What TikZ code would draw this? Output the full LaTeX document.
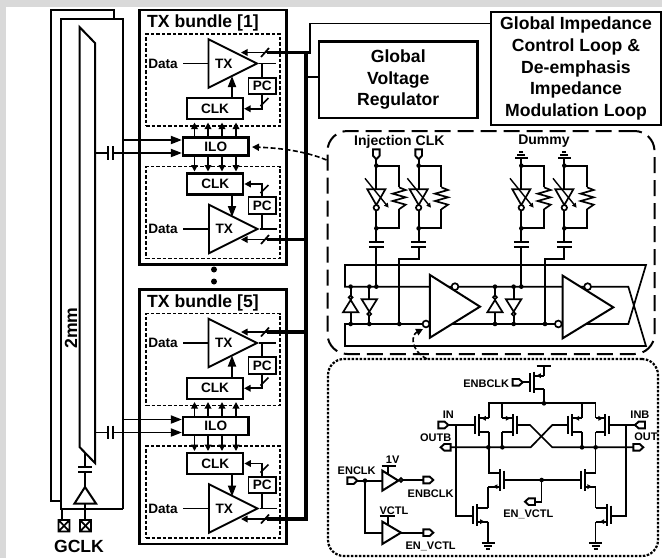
\documentclass[tikz,border=0pt]{standalone}
\usepackage{fontspec}
\setmainfont{Liberation Sans}
\usetikzlibrary{shapes.geometric, arrows.meta}
\definecolor{framegray}{RGB}{217,217,217}
\newcommand{\fntL}{\fontsize{17.6}{21.7}\selectfont\bfseries}
\newcommand{\fntM}{\fontsize{13.6}{16}\selectfont\bfseries}
\newcommand{\fntS}{\fontsize{11}{13}\selectfont\bfseries}
\tikzset{
  wire/.style={line width=1.7pt},
  tinyarw/.style={-{Triangle[length=4.5pt,width=4.5pt]},line width=1.4pt},
  pics/port/.style={code={\draw[line width=1.9pt,fill=white] (-15,-10)--(4,-10)--(15,0)--(4,10)--(-15,10)--cycle;}},
  pics/gnd/.style={code={
    \draw[wire] (-20,0)--(20,0) (-12,10)--(12,10) (-6,19)--(6,19);}},
  pics/pfet/.style={code={
    \draw[line width=2pt] (0,-28)--(0,28) (12,-32)--(12,32);
    \draw[wire] (12,-20)--(#1,-20) (12,20)--(#1,20);
    \draw[tinyarw] (32,-20)--(19,-20);}},
  pics/nfet/.style={code={
    \draw[line width=2pt] (0,-28)--(0,28) (12,-32)--(12,32);
    \draw[wire] (12,-20)--(#1,-20) (12,20)--(#1,20);
    \draw[tinyarw] (20,20)--(34,20);}}
}
\begin{document}
\begin{tikzpicture}[x=1pt,y=-1pt,
  box/.style={draw, line width=2.2pt, inner sep=0pt, align=center},
  bundlebox/.style={draw, line width=2.3pt, minimum width=147, minimum height=254.5},
  dashbox/.style={draw, line width=1.6pt, dash pattern=on 3.5pt off 2pt, minimum width=134, minimum height=92},
  clkbox/.style={box, font=\fntM, minimum width=56, minimum height=21},
  pcbox/.style={box, line width=1.8pt, font=\fntM, minimum width=27.5, minimum height=16.5},
  txtri/.style={isosceles triangle, isosceles triangle stretches, draw, line width=1.9pt, inner sep=0pt,
    minimum width=48.5, minimum height=48.5, anchor=lower side, font=\fntM},
  lab/.style={inner sep=0pt, font=\fntS},
  arw/.style={-{Triangle[length=6.5pt,width=6.5pt]}, line width=1.8pt},
  bigarw/.style={-{Triangle[length=11pt,width=8pt]}, line width=1.8pt},
  bus/.style={line width=3.6pt},
  dasharw/.style={-{Triangle[length=7pt,width=7pt]}, line width=1.6pt, dash pattern=on 5pt off 2.5pt}
]
  \useasboundingbox (0,0) rectangle (662,558);
  \fill[framegray] (0,0) rectangle (662,558);
  \fill[white] (6,7) rectangle (662,558);

  \draw[line width=2pt] (114,18)--(114,10)--(51,10)--(51,500.5)--(61,500.5);
  \draw[line width=2pt] (123,509)--(123,19)--(61,19)--(61,509)--(123,509);
  \draw[line width=2pt] (79.5,27)--(95,43)--(95,463)--(79.5,447)--cycle;
  \draw[wire] (85,453)--(85,467) (85,472)--(85,487) (85,503)--(85,520) (62,509)--(62,520);
  \draw[line width=2pt] (78,467)--(92,467) (78,472)--(92,472);
  \draw[line width=2pt,fill=white] (85,487)--(96,503.5)--(74.5,503.5)--cycle;
  \foreach \padx in {64,85.5}
    \draw[wire] (\padx-5.5,520) rectangle (\padx+5.5,531.5)
                (\padx-5.5,520)--(\padx+5.5,531.5) (\padx-5.5,531.5)--(\padx+5.5,520);
  \node[inner sep=0pt, font=\fntL] (gclk) at (79,546) {GCLK};
  \node[inner sep=0pt, font=\fntL, rotate=90] (twomm) at (71,328) {2mm};

  \foreach \n/\dy in {1/0,5/279.5} {
    \begin{scope}[shift={(0,\dy)}]
      \node[bundlebox] (bun\n) at (213,137.25) {};
      \node[inner sep=0pt, anchor=west, font=\fntL] (ttl\n) at (147,23) {TX bundle [\n]};
      \node[dashbox] (dsa\n) at (213,80) {};
      \node[dashbox] (dsb\n) at (213,212.5) {};
      \node[clkbox, minimum height=18, minimum width=65.5] (ilo\n) at (215.75,146.5) {ILO};

      \node[txtri] (txa\n) at (207.5,63.5) {TX};
      \node[clkbox] (clka\n) at (215,108.75) {CLK};
      \node[pcbox] (pca\n) at (262.25,86) {PC};
      \node[font=\fntM, inner sep=5pt, anchor=east] (dta\n) at (183,63.5) {Data};
      \draw[wire] (dta\n) -- (txa\n.lower side);
      \draw[wire] (txa\n.apex) -- (276,63.5);
      \draw[wire] (pca\n.north) -- (pca\n.north |- txa\n.apex);
      \draw[arw] (pca\n.south) |- (clka\n.east);
      \draw[wire] (260.5,106)--(268.5,98);
      \draw[bigarw] (clka\n.north -| 232,0) -- (232,76);
      \draw[bus] (306,52.5) -- (267,52.5);
      \draw[arw] (267,52.5) -- (241,52.5);
      \draw[wire] (261,57)--(269,48);

      \node[txtri] (txb\n) at (208,229) {TX};
      \node[clkbox] (clkb\n) at (215.25,184) {CLK};
      \node[pcbox] (pcb\n) at (262.25,205.5) {PC};
      \node[font=\fntM, inner sep=5pt, anchor=east] (dtb\n) at (183,229) {Data};
      \draw[wire] (dtb\n) -- (txb\n.lower side);
      \draw[wire] (txb\n.apex) -- (276.5,229);
      \draw[wire] (pcb\n.south) -- (pcb\n.south |- txb\n.apex);
      \draw[arw] (pcb\n.north) |- (clkb\n.east);
      \draw[wire] (260.5,193)--(268.5,185);
      \draw[bigarw] (clkb\n.south -| 232,0) -- (232,217);
      \draw[bus] (306,239.5) -- (267,239.5);
      \draw[arw] (267,239.5) -- (241,239.5);
      \draw[wire] (261,244)--(269,235);

      \foreach \ax in {194.5,208,222,236} {
        \draw[arw] (ilo\n.north -| \ax,0) -- (\ax,122.5);
        \draw[arw] (ilo\n.south -| \ax,0) -- (\ax,171.5);
      }
      \draw[bigarw] (123,140) -- (ilo\n.west |- 0,140);
      \draw[bigarw] (113,153) -- (ilo\n.west |- 0,153);
      \draw[wire] (95,153)--(108,153);
      \draw[line width=2pt] (108,146)--(108,159.5) (113,146)--(113,159.5);
    \end{scope}
  }
  \fill (214,269.5) circle (3pt) (214,281.5) circle (3pt);

  \draw[bus] (306,52.5) -- (306,519) -- (304,519);
  \draw[bus] (304,52.5) -- (311,52.5);

  \node[box, font=\fntL, minimum width=158.5, minimum height=76.5] (reg) at (398.25,79.75) {Global\\Voltage\\Regulator};
  \node[box, font=\fntL, minimum width=170.5, minimum height=113] (ctrl) at (576,68.5) {Global Impedance\\Control Loop \&\\De-emphasis\\Impedance\\Modulation Loop};
  \coordinate (ctrlin) at (ctrl.west |- 0,23.5);
  \draw[wire] (310,52.5) |- (ctrlin);
  \draw[wire] (306,77) -- (reg.west |- 0,77);

  \node[draw, line width=2pt, dash pattern=on 16pt off 7pt, rounded corners=20pt, minimum width=327, minimum height=223] (midbox) at (491,242.5) {};
  \node[draw, line width=2.2pt, dash pattern=on 2.5pt off 1.5pt, rounded corners=16pt, minimum width=330, minimum height=197] (lowbox) at (493,457.5) {};
  \draw[dasharw] (midbox.west |- 0,160) .. controls (305,151) and (280,148) .. (252,147);
  \draw[dasharw] (427,359) .. controls (410,350) and (411,335) .. (423,329);

  \begin{scope}[shift={(320,125)},x=0.3333pt,y=-0.3333pt]
    \node[inner sep=0pt, font=\fontsize{14}{16}\selectfont\bfseries] (inj) at (238,50) {Injection CLK};
    \node[inner sep=0pt, font=\fontsize{14}{16}\selectfont\bfseries] (dum) at (672,48) {Dummy};
    \foreach \bx in {169,296} \pic[rotate=-90] at (\bx,88) {port};
    \foreach \bx in {604,733} \pic[rotate=180] at (\bx,100) {gnd};
    \foreach \bx in {169,296,604,733} {
      \draw[wire] (\bx,100)--(\bx,350) (\bx,122)-|(\bx+68,187) (\bx,310)-|(\bx+68,253);
      \draw[wire] (\bx+68,187)--(\bx+88,195)--(\bx+49,206)--(\bx+88,217)--(\bx+49,228)--(\bx+88,239)--(\bx+68,253);
      \draw[wire,fill=white] (\bx-27,193)--(\bx+27,193)--(\bx,240)--cycle;
      \draw[wire,fill=white] (\bx,248) circle (2.7pt);
      \draw[tinyarw] (\bx-34,160)--(\bx+37,248);
      \fill (\bx,122) circle (2.3pt) (\bx,310) circle (2.3pt);
      \draw[line width=2pt] (\bx-22,350)--(\bx+22,350) (\bx-22,366)--(\bx+22,366);
    }
    \draw[wire] (169,366)--(169,485) (604,366)--(604,485);
    \draw[wire] (296,366)--(296,402)-|(238,597);
    \draw[wire] (733,366)--(733,402)-|(675,597);

    \draw[wire] (925,485)--(75,485)--(75,420)--(978,420)--(925,597)--(75,597)--(75,663)--(978,663)--cycle;
    \foreach \ux/\dx in {92/148,525/581} {
      \draw[wire] (\ux,485)--(\ux,597) (\dx,485)--(\dx,597);
      \draw[wire,fill=white] (\ux-23,562)--(\ux+23,562)--(\ux,525)--cycle;
      \draw[wire,fill=white] (\ux,517) circle (1.9pt);
      \draw[wire,fill=white] (\dx-23,523)--(\dx+23,523)--(\dx,560)--cycle;
      \draw[wire,fill=white] (\dx,567) circle (1.9pt);
      \foreach \cx in {\ux,\dx}
        \fill (\cx,485) circle (2.3pt) (\cx,597) circle (2.3pt);
    }
    \foreach \cx in {169,604} \fill (\cx,485) circle (2.3pt);
    \foreach \cx in {238,675} \fill (\cx,597) circle (2.3pt);

    \draw[line width=2pt,fill=white] (330,450)--(480,545)--(330,638)--cycle;
    \draw[line width=2pt,fill=white] (728,452)--(880,547)--(728,640)--cycle;
    \draw[wire,fill=white] (318,597) circle (3.4pt);
    \draw[wire,fill=white] (405,485) circle (3.4pt);
    \draw[wire,fill=white] (715,597) circle (3.4pt);
    \draw[wire,fill=white] (803,485) circle (3.4pt);
  \end{scope}

  \begin{scope}[shift={(320,350)},x=0.3333pt,y=-0.3333pt]
    \pic at (630,97) {pfet=42};
    \pic at (465,225) {pfet=41};
    \pic[xscale=-1] at (590,225) {pfet=43};
    \pic at (745,225) {pfet=42};
    \pic[xscale=-1] at (868,225) {pfet=41};
    \pic[xscale=-1] at (553,390) {nfet=48};
    \pic at (782,390) {nfet=45};
    \pic at (460,495) {nfet=45};
    \pic[xscale=-1] at (873,495) {nfet=46};

    \draw[wire] (672,77)--(672,47) (650,47)--(692,47) (672,117)--(672,160);
    \draw[wire] (506,205)--(506,160)--(827,160)--(827,205) (547,160)--(547,205) (786,160)--(786,205);
    \draw[wire] (506,245)--(506,370) (547,245)--(547,292) (786,245)--(786,292) (827,245)--(827,370);
    \draw[wire] (505,410)--(505,475) (505,515)--(505,578);
    \draw[wire] (827,410)--(827,475) (827,515)--(827,578);
    \pic at (505,578) {gnd};
    \pic at (827,578) {gnd};
    \foreach \cx/\cy in {672/160,505/292,547/292,786/292,827/292,665/390}
      \fill (\cx,\cy) circle (2.3pt);

    \draw[wire] (590,225)--(630,225)--(697,292)--(940,292);
    \draw[wire] (745,225)--(697,225)--(632,292)--(392,292);
    \draw[wire] (553,390)--(782,390) (665,390)--(665,455)--(645,455);
    \draw[wire] (385,225)--(465,225) (408,225)--(408,498)--(460,498);
    \draw[wire] (868,225)--(945,225) (918,225)--(918,498)--(873,498);
    \draw[wire] (608,97)--(630,97);

    \pic at (593,97) {port};
    \pic at (370,225) {port};
    \pic[rotate=180] at (377,292) {port};
    \pic[rotate=180] at (960,225) {port};
    \pic at (955,292) {port};
    \pic[rotate=180] at (630,455) {port};

    \node[lab, anchor=east] (enbclktop) at (568,100) {ENBCLK};
    \node[lab] (inlab) at (385,195) {IN};
    \node[lab] (inblab) at (960,195) {INB};
    \node[lab] (outblab) at (347,263) {OUTB};
    \node[lab] (outlab) at (978,259) {OUT};
    \node[lab] (envctlm) at (625,493) {EN\_VCTL};

    \node[lab] (enclk) at (110,362) {ENCLK};
    \pic at (97,392) {port};
    \draw[wire] (112,392)--(187,392) (135,392)--(135,548)--(187,548);
    \fill (135,392) circle (2.3pt);
    \draw[wire] (243,390)--(310,390) (243,548)--(310,548);
    \draw[wire] (205,347)--(205,372) (185,347)--(228,347) (205,497)--(205,528) (180,497)--(225,497);
    \draw[line width=2pt,fill=white] (187,362)--(235,392)--(187,422)--cycle;
    \draw[line width=2pt,fill=white] (187,515)--(243,548)--(187,582)--cycle;
    \draw[wire,fill=white] (243,390) circle (1.9pt);
    \pic at (325,390) {port};
    \pic at (325,548) {port};
    \node[lab] (onev) at (218,328) {1V};
    \node[lab] (vctl) at (222,482) {VCTL};
    \node[lab] (enbclkb) at (332,430) {ENBCLK};
    \node[lab] (envctlb) at (332,588) {EN\_VCTL};
  \end{scope}
\end{tikzpicture}
\end{document}
